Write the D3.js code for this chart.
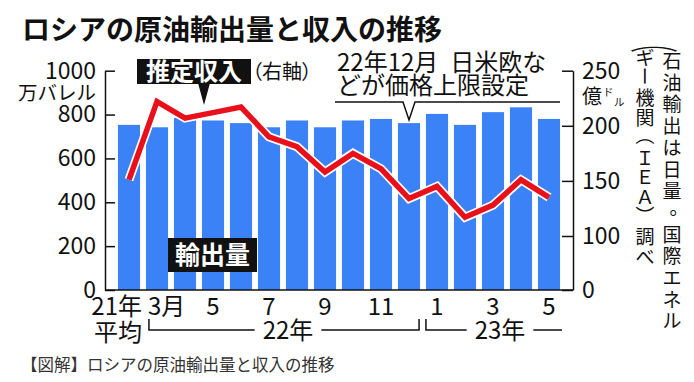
<!DOCTYPE html>
<html><head><meta charset="utf-8">
<script src="https://cdn.jsdelivr.net/npm/d3@7"></script>
<style>
body{margin:0;background:#fff}
svg{display:block}
text{font-family:"Noto Sans CJK JP","Noto Sans",sans-serif;fill:#111}
</style>
</head><body>
<svg id="c" width="694" height="382"></svg>
<script>
// ---- data ----
const categories = ["21年平均","22年3月","22年4月","22年5月","22年6月","22年7月","22年8月","22年9月","22年10月","22年11月","22年12月","23年1月","23年2月","23年3月","23年4月","23年5月"];
const exportVolume = [753,742,785,773,761,742,773,742,773,780,761,803,753,811,833,780]; // 万バレル/日
const revenue = [151,222,207,212,217,190,181,158,175,161,134,145,117,128,151,135]; // 億ドル
const monthLabels = ["21年","3月","","5","","7","","9","","11","","1","","3","","5"];
const leftTicks = [0,200,400,600,800,1000];
const rightTicks = [0,100,150,200,250];
const yearLabels = ["22年","23年"];
const yearFrom = [1,11];
const yearTo = [10,15];
const yearClosed = [true,false];
const sourceRight = "（石油輸出は日量。国際エネル";
const sourceLeft = "ギー機関（ＩＥＡ）調べ";

const svg = d3.select("#c");
const X0 = 105, X1 = 573, Y0 = 290, Y1 = 70.7;

const x = d3.scaleBand().domain(categories).range([115,563]).paddingInner(0.21).paddingOuter(0.105);
const bw = x.bandwidth();
const cx = c => x(c) + bw/2;
const yL = d3.scaleLinear().domain([0,1000]).range([Y0,Y1]);
// right axis is broken between 0 and 100
const yR = d3.scaleLinear().domain([0,100,250]).range([Y0,236,Y1]);

// title
svg.append("text").attr("x",22).attr("y",40).attr("font-size",28).attr("font-weight","bold")
  .text("ロシアの原油輸出量と収入の推移");

// bars
svg.append("g").selectAll("rect").data(exportVolume).join("rect")
  .attr("x",(d,i)=>x(categories[i])).attr("y",d=>yL(d))
  .attr("width",bw).attr("height",d=>Y0-yL(d)).attr("fill","#3a82f5");

// axes
function styleAxis(g){
  g.attr("font-family",null).attr("font-size",null);
  g.select(".domain").attr("stroke","#111").attr("stroke-width",1.5);
  g.selectAll(".tick line").attr("stroke","#111").attr("stroke-width",1.5);
  g.selectAll(".tick text").attr("font-size",23).attr("fill","#111");
}
const gl = svg.append("g").attr("transform",`translate(${X0},0)`)
  .call(d3.axisLeft(yL).tickValues(leftTicks).tickSizeInner(-10).tickSizeOuter(0).tickPadding(9).tickFormat(d3.format("d")));
styleAxis(gl);
const gr = svg.append("g").attr("transform",`translate(${X1},0)`)
  .call(d3.axisRight(yR).tickValues(rightTicks).tickSizeInner(-11).tickSizeOuter(0).tickPadding(9).tickFormat(d3.format("d")));
styleAxis(gr);
svg.append("line").attr("x1",X0).attr("x2",X1).attr("y1",Y0).attr("y2",Y0).attr("stroke","#111").attr("stroke-width",1.5);

// unit labels
svg.append("text").attr("x",96).attr("y",100).attr("text-anchor","end").attr("font-size",19.5).text("万バレル");
const ut = svg.append("text").attr("x",582).attr("y",104).attr("font-size",20);
ut.append("tspan").text("億");
ut.append("tspan").attr("x",603).attr("y",96).attr("font-size",10.5).text("ド");
ut.append("tspan").attr("x",614).attr("y",106).attr("font-size",10.5).text("ル");

// revenue line
const line = d3.line().x((d,i)=>cx(categories[i])).y(d=>yR(d));
svg.append("path").datum(revenue).attr("d",line).attr("fill","none").attr("stroke","#fff").attr("stroke-width",9).attr("stroke-linejoin","miter");
svg.append("path").datum(revenue).attr("d",line).attr("fill","none").attr("stroke","#e8101a").attr("stroke-width",5.5).attr("stroke-linejoin","miter");

// 推定収入 label
svg.append("rect").attr("x",137).attr("y",59).attr("width",114).attr("height",25).attr("fill","#111");
svg.append("path").attr("d","M198,83L210,83L204,105Z").attr("fill","#111");
svg.append("text").attr("x",194).attr("y",80).attr("text-anchor","middle").attr("font-size",24).attr("font-weight","bold").style("fill","#fff").text("推定収入");
svg.append("text").attr("x",252).attr("y",79).attr("font-size",20).style("font-feature-settings","'palt' 1").text("（右軸）");

// 輸出量 label
svg.append("rect").attr("x",168).attr("y",238).attr("width",89).attr("height",34).attr("fill","#111");
svg.append("text").attr("x",212.5).attr("y",264).attr("text-anchor","middle").attr("font-size",25).attr("font-weight","bold").style("fill","#fff").text("輸出量");

// annotation
const ax = cx("22年12月");
const t1 = svg.append("text").attr("x",337).attr("y",71).attr("font-size",24);
t1.append("tspan").text("22年12月");
t1.append("tspan").attr("dx",12).text("日米欧な");
t1.append("tspan").attr("x",337).attr("y",94).text("どが価格上限設定");
svg.append("path").attr("d",`M335,102H${ax-6}L${ax},120L${ax+6},102H560`).attr("fill","none").attr("stroke","#111").attr("stroke-width",1.5);

// x labels
monthLabels.forEach((lab,i)=>{
  if(!lab) return;
  const c = cx(categories[i]);
  const t = svg.append("text").attr("y",315).attr("font-size",24).text(lab);
  if(i===0){
    t.attr("x",c+13).attr("text-anchor","end");
    t.append("tspan").attr("x",c+13).attr("y",341).text("平均");
  }
  else if(lab.endsWith("月")) t.attr("x",c-9).attr("text-anchor","start");
  else t.attr("x",c).attr("text-anchor","middle");
});

// year brackets
yearLabels.forEach((lab,k)=>{
  const a = x(categories[yearFrom[k]]) + (k===0?3:0);
  const b = x(categories[yearTo[k]]) + bw + (k===0?-1:2);
  const mid = (a+b)/2 + (k===0?4:6);
  const t = svg.append("text").attr("x",mid).attr("y",339).attr("text-anchor","middle").attr("font-size",24).text(lab);
  const half = t.node().getComputedTextLength()/2 + 8;
  let d = `M${a},319V330H${mid-half}M${mid+half},330H${b}`;
  if(yearClosed[k]) d += "V319";
  svg.append("path").attr("d",d).attr("fill","none").attr("stroke","#111").attr("stroke-width",1.5);
});

// source (vertical, laid out character by character)
function vcol(str, colX, firstY, pitch, wideFirst){
  const g = svg.append("g");
  const main = g.append("text").attr("text-anchor","middle").attr("dominant-baseline","central").attr("font-size",19);
  Array.from(str).forEach((ch,i)=>{
    const cy = firstY + i*pitch;
    if(i===0 && wideFirst){
      g.append("text").attr("text-anchor","middle").attr("dominant-baseline","central").attr("font-size",19)
        .attr("transform",`translate(${colX-16},43) rotate(90) scale(1,2.55)`).text(ch);
    } else if(ch==="（"||ch==="）"||ch==="ー"){
      g.append("text").attr("text-anchor","middle").attr("dominant-baseline","central").attr("font-size",19)
        .attr("transform",`translate(${colX},${cy}) rotate(90)`).text(ch);
    } else if(ch==="。"){
      main.append("tspan").attr("x",colX+7).attr("y",cy-5).text(ch);
    } else {
      main.append("tspan").attr("x",colX).attr("y",cy).text(ch);
    }
  });
}
vcol(sourceRight, 672, 59-21.7, 21.7, true);
vcol(sourceLeft, 645, 56, 19.9, false);

// footer
svg.append("text").attr("x",21).attr("y",371).attr("font-size",16.5).style("fill","#333").text("【図解】ロシアの原油輸出量と収入の推移");
</script>
</body></html>
